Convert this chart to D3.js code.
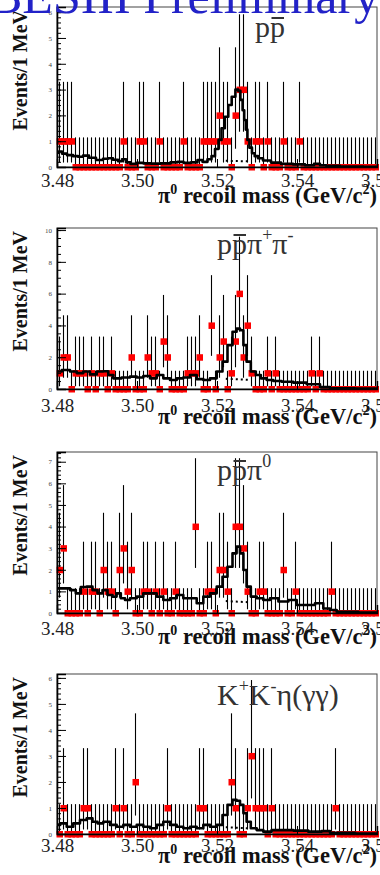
<!DOCTYPE html>
<html>
<head>
<meta charset="utf-8">
<script src="https://cdn.jsdelivr.net/npm/d3@7"></script>
<style>
  body { margin: 0; background: #fff; }
  svg { display: block; }
</style>
</head>
<body>
<div id="chart"></div>
<script>
// binning: 1 MeV bins from 3.48 GeV
const binStart = 3.48;
const binWidth = 0.001;

// Poisson 68% intervals used by the error bars (n = 0..6)
const poissonLow  = [0, 0.173, 0.708, 1.367, 2.086, 2.840, 3.620];
const poissonHigh = [1.148, 3.300, 4.638, 5.918, 7.163, 8.382, 9.584];

// events per bin, 80 bins each
const countsPP = [
  1,1,1,1,0,0,0,0,0,0, 0,0,0,0,0,0,1,0,0,0,
  1,1,0,0,0,1,0,0,0,0, 0,1,0,0,0,0,1,1,1,1,
  2,1,1,0,2,3,3,1,0,1, 1,0,1,0,0,0,1,0,0,0,
  1,0,0,0,0,0,0,0,0,0, 0,0,0,0,0,0,0,0,0,0
];
const countsPPpipi = [
  1,2,2,0,1,1,1,0,1,0, 1,1,0,1,0,0,0,0,2,0,
  0,0,2,1,1,0,3,2,0,0, 0,0,1,1,1,2,0,0,4,0,
  2,3,0,1,3,6,2,4,1,0, 0,0,1,0,1,0,0,0,0,0,
  0,0,0,1,0,1,0,0,0,0, 0,0,0,0,0,0,0,0,0,0
];
const countsPPpi0 = [
  2,3,0,0,0,0,1,0,1,1, 0,2,1,1,0,2,3,1,2,0,
  0,1,1,0,1,0,1,0,0,1, 0,0,0,0,4,0,0,1,1,0,
  2,2,1,0,4,4,3,1,0,0, 1,1,0,0,0,0,2,0,0,1,
  0,0,0,0,0,0,0,0,1,0, 0,0,0,0,0,0,0,0,0,0
];
const countsKKeta = [
  0,1,0,0,0,0,1,1,0,0, 0,0,0,0,1,0,1,0,0,2,
  0,0,0,0,0,0,0,1,0,0, 0,0,0,0,0,1,1,0,0,0,
  0,0,0,2,1,0,0,1,3,1, 1,1,0,1,0,0,0,0,0,0,
  0,0,0,0,0,0,0,0,0,1, 0,0,0,0,0,0,0,0,0,0
];

// fit curves [mass GeV, events/MeV]
const fitPP = [
  [3.48000,0.55],[3.48075,0.60],[3.48175,0.52],[3.48325,0.46],[3.48475,0.42],[3.48575,0.40],
  [3.48725,0.44],[3.48875,0.36],[3.49075,0.27],[3.49225,0.32],[3.49325,0.34],[3.49475,0.28],
  [3.49575,0.22],[3.49675,0.30],[3.49775,0.18],[3.49900,0.12],[3.50075,0.16],[3.50250,0.14],
  [3.50450,0.13],[3.50725,0.14],[3.50950,0.18],[3.51075,0.20],[3.51250,0.16],[3.51450,0.18],
  [3.51575,0.27],[3.51700,0.20],[3.51825,0.30],[3.51900,0.42],[3.52000,0.70],[3.52075,1.05],
  [3.52150,1.50],[3.52240,1.95],[3.52325,2.40],[3.52410,2.72],[3.52510,3.00],[3.52550,2.95],
  [3.52620,2.60],[3.52660,2.20],[3.52700,1.82],[3.52740,1.45],[3.52780,1.05],[3.52840,0.75],
  [3.52910,0.53],[3.52975,0.42],[3.53075,0.34],[3.53225,0.25],[3.53475,0.17],[3.53725,0.12],
  [3.54075,0.10],[3.54325,0.07],[3.54525,0.12],[3.54625,0.07],[3.54825,0.05],[3.55325,0.02],
  [3.56000,0.01]
];
const fitPPpipi = [
  [3.48000,1.10],[3.48240,1.20],[3.48410,1.10],[3.48575,1.00],[3.48740,1.10],[3.48910,0.92],
  [3.49075,1.10],[3.49240,1.12],[3.49325,0.88],[3.49490,0.67],[3.49740,0.72],[3.49910,0.78],
  [3.50075,0.72],[3.50240,0.82],[3.50410,0.67],[3.50575,0.88],[3.50740,0.67],[3.50910,0.57],
  [3.51075,0.67],[3.51240,0.72],[3.51410,0.88],[3.51575,0.62],[3.51740,0.57],[3.51910,0.67],
  [3.52075,1.10],[3.52200,1.72],[3.52325,2.76],[3.52450,3.60],[3.52530,3.80],[3.52620,3.70],
  [3.52700,2.76],[3.52780,1.72],[3.52910,1.10],[3.53030,0.88],[3.53160,0.67],[3.53325,0.57],
  [3.53490,0.50],[3.53740,0.46],[3.54075,0.40],[3.54410,0.30],[3.54740,0.12],[3.54910,0.05],
  [3.56000,0.03]
];
const fitPPpi0 = [
  [3.48000,1.14],[3.48240,1.14],[3.48410,1.06],[3.48530,0.91],[3.48660,1.20],[3.48825,1.22],
  [3.48950,1.06],[3.49075,0.91],[3.49200,1.06],[3.49325,0.83],[3.49450,0.76],[3.49530,0.91],
  [3.49660,0.68],[3.49740,0.60],[3.49910,0.68],[3.50075,0.76],[3.50240,0.91],[3.50410,0.91],
  [3.50575,0.76],[3.50740,0.60],[3.50910,0.68],[3.51075,0.83],[3.51240,0.68],[3.51410,0.68],
  [3.51575,0.45],[3.51740,0.76],[3.51910,0.91],[3.52075,1.22],[3.52200,1.68],[3.52325,2.14],
  [3.52450,2.76],[3.52530,3.07],[3.52620,2.76],[3.52700,1.99],[3.52780,1.22],[3.52910,0.76],
  [3.53075,0.68],[3.53240,0.60],[3.53410,0.68],[3.53660,0.53],[3.53910,0.60],[3.54075,0.37],
  [3.54325,0.37],[3.54575,0.45],[3.54740,0.21],[3.54910,0.14],[3.55075,0.06],[3.56000,0.02]
];
const fitKKeta = [
  [3.48000,0.35],[3.48160,0.41],[3.48325,0.28],[3.48490,0.41],[3.48660,0.54],[3.48825,0.60],
  [3.48950,0.47],[3.49075,0.41],[3.49240,0.47],[3.49410,0.35],[3.49575,0.28],[3.49740,0.35],
  [3.49910,0.28],[3.50075,0.35],[3.50240,0.28],[3.50410,0.22],[3.50575,0.35],[3.50740,0.47],
  [3.50910,0.35],[3.51075,0.28],[3.51240,0.22],[3.51410,0.28],[3.51575,0.22],[3.51740,0.35],
  [3.51910,0.28],[3.52075,0.35],[3.52200,0.73],[3.52325,1.12],[3.52450,1.31],[3.52530,1.28],
  [3.52620,1.12],[3.52700,0.80],[3.52780,0.47],[3.52910,0.22],[3.53075,0.15],[3.53240,0.09],
  [3.53490,0.15],[3.53740,0.15],[3.54075,0.13],[3.54490,0.09],[3.54740,0.11],[3.54910,0.05],
  [3.56000,0.02]
];

// dotted background component, seen only under the peak
const bgPP     = [[3.5222,0.24],[3.5278,0.22]];
const bgPPpipi = [[3.5222,0.64],[3.5278,0.58]];
const bgPPpi0  = [[3.5222,0.55],[3.5278,0.50]];
const bgKKeta  = [[3.5222,0.26],[3.5278,0.22]];

// tick labels
const xTicks = [3.48, 3.50, 3.52, 3.54, 3.56];
const yTicksPP     = [0, 1, 2, 3, 4, 5, 6];
const yTicksPPpipi = [0, 2, 4, 6, 8, 10];
const yTicksPPpi0  = [0, 1, 2, 3, 4, 5, 6, 7];
const yTicksKKeta  = [0, 1, 2, 3, 4, 5, 6];

// channel labels: [text, n=normal | b=barred | u=superscript]
const labelPP     = [["p","n"],["p","b"]];
const labelPPpipi = [["p","n"],["p","b"],["π","n"],["+","u"],["π","n"],["-","u"]];
const labelPPpi0  = [["p","n"],["p","b"],["π","n"],["0","u"]];
const labelKKeta  = [["K","n"],["+","u"],["K","n"],["-","u"],["η(γγ)","n"]];

const panels = [
  {counts: countsPP, fit: fitPP, bg: bgPP, yTicks: yTicksPP, yMax: 6.2, minor: 0.2,
   top: 7, bottom: 167, tickY: 20, titleY: 36, label: labelPP, labelX: 255, labelY: 37},
  {counts: countsPPpipi, fit: fitPPpipi, bg: bgPPpipi, yTicks: yTicksPPpipi, yMax: 10.13, minor: 0.5,
   top: 228, bottom: 389, tickY: 23, titleY: 35, label: labelPPpipi, labelX: 217, labelY: 254},
  {counts: countsPPpi0, fit: fitPPpi0, bg: bgPPpi0, yTicks: yTicksPPpi0, yMax: 7.45, minor: 0.2,
   top: 452, bottom: 613, tickY: 22, titleY: 31, label: labelPPpi0, labelX: 217, labelY: 480},
  {counts: countsKKeta, fit: fitKKeta, bg: bgKKeta, yTicks: yTicksKKeta, yMax: 6.15, minor: 0.2,
   top: 674, bottom: 834, tickY: 18, titleY: 29, label: labelKKeta, labelX: 217, labelY: 705}
];

const serif = "'Liberation Serif', 'Times New Roman', serif";
const frameLeft = 57, frameRight = 377;

const svg = d3.select("#chart").append("svg")
  .attr("width", 380)
  .attr("height", 875);

panels.forEach(drawPanel);

// banner, mostly cut off by the top edge
svg.append("text")
  .attr("x", -11)
  .attr("y", 13)
  .style("font-family", serif)
  .style("font-size", "50px")
  .attr("fill", "#2222c8")
  .text("BESIII Preliminary");

function drawPanel(p) {
  let x = d3.scaleLinear()
    .domain([binStart, binStart + binWidth * p.counts.length])
    .range([frameLeft, frameRight]);
  let y = d3.scaleLinear()
    .domain([0, p.yMax])
    .range([p.bottom, p.top]);

  let g = svg.append("g");

  let bins = p.counts.map(function(c, i) {
    return {m: binStart + binWidth * (i + 0.5), n: c};
  });

  // error bars (half pixel shift keeps the 1px lines sharp)
  g.selectAll(".err")
    .data(bins)
    .enter()
    .append("line")
    .attr("class", "err")
    .attr("x1", function(d) { return Math.round(x(d.m)) + 0.5; })
    .attr("x2", function(d) { return Math.round(x(d.m)) + 0.5; })
    .attr("y1", function(d) { return y(poissonLow[d.n]); })
    .attr("y2", function(d) { return y(poissonHigh[d.n]); })
    .attr("stroke", "#000")
    .attr("stroke-width", 1.1);

  // markers
  g.selectAll(".pt")
    .data(bins)
    .enter()
    .append("rect")
    .attr("class", "pt")
    .attr("x", function(d) { return Math.round(x(d.m)) - 2.5; })
    .attr("y", function(d) { return y(d.n) - 3; })
    .attr("width", 6.5)
    .attr("height", 6.5)
    .attr("fill", "#ff0000");

  // frame
  g.append("rect")
    .attr("x", frameLeft)
    .attr("y", p.top)
    .attr("width", frameRight - frameLeft)
    .attr("height", p.bottom - p.top)
    .attr("fill", "none")
    .attr("stroke", "#444")
    .attr("stroke-width", 1);

  // y axis, ticks inside
  let minorTicks = d3.range(0, p.yMax, p.minor);
  g.append("g")
    .attr("transform", "translate(" + frameLeft + ",0)")
    .call(d3.axisLeft(y).tickValues(minorTicks).tickSize(-4).tickFormat(""))
    .call(function(a) { a.select(".domain").remove(); });

  let yAx = g.append("g")
    .attr("transform", "translate(" + frameLeft + ",0)")
    .call(d3.axisLeft(y).tickValues(p.yTicks).tickSize(-9).tickPadding(5).tickFormat(d3.format("d")));
  yAx.select(".domain").attr("stroke", "#000").attr("stroke-width", 1.6);
  yAx.selectAll("text")
    .style("font-family", serif)
    .style("font-size", "7px")
    .attr("fill", "#444");

  // x axis
  let xAx = g.append("g")
    .attr("transform", "translate(0," + p.bottom + ")")
    .call(d3.axisBottom(x).tickValues(xTicks).tickSize(-8).tickFormat(d3.format(".2f")));
  xAx.select(".domain").attr("stroke", "#000").attr("stroke-width", 1.4);
  xAx.selectAll("text")
    .attr("y", p.tickY)
    .attr("dy", 0)
    .style("font-family", serif)
    .style("font-size", "19px")
    .attr("fill", "#222");

  // fit curve and background
  let line = d3.line()
    .x(function(d) { return x(d[0]); })
    .y(function(d) { return y(d[1]); })
    .curve(d3.curveStep);

  g.append("path")
    .datum(p.bg)
    .attr("d", d3.line().x(function(d) { return x(d[0]); }).y(function(d) { return y(d[1]); }))
    .attr("fill", "none")
    .attr("stroke", "#000")
    .attr("stroke-width", 2)
    .attr("stroke-dasharray", "2,3");

  g.append("path")
    .datum(p.fit)
    .attr("d", line)
    .attr("fill", "none")
    .attr("stroke", "#000")
    .attr("stroke-width", 2.6)
    .attr("stroke-linejoin", "round");

  // axis titles
  let xt = g.append("text")
    .attr("x", frameRight)
    .attr("y", p.bottom + p.titleY)
    .attr("text-anchor", "end")
    .style("font-family", serif)
    .style("font-size", "22.5px")
    .style("font-weight", "bold")
    .attr("fill", "#111");
  xt.append("tspan").text("π");
  xt.append("tspan").attr("dy", -9).style("font-size", "14px").text("0");
  xt.append("tspan").attr("dy", 9).text(" recoil mass (GeV/c");
  xt.append("tspan").attr("dy", -9).style("font-size", "14px").text("2");
  xt.append("tspan").attr("dy", 9).text(")");

  g.append("text")
    .attr("transform", "translate(27," + (p.top + 3) + ") rotate(-90)")
    .attr("text-anchor", "end")
    .style("font-family", serif)
    .style("font-size", "20px")
    .style("font-weight", "bold")
    .attr("fill", "#111")
    .text("Events/1 MeV");

  // channel label
  let lt = g.append("text")
    .attr("x", p.labelX)
    .attr("y", p.labelY)
    .style("font-family", serif)
    .style("font-size", "30px")
    .attr("fill", "#333");
  let raised = false, charIndex = 0, barred = [];
  p.label.forEach(function(part) {
    let ts = lt.append("tspan").text(part[0]);
    if (part[1] == "u") {
      ts.attr("dy", raised ? 0 : -13).style("font-size", "18px");
      raised = true;
    } else {
      if (raised) ts.attr("dy", 13);
      raised = false;
    }
    if (part[1] == "b") barred.push(charIndex);
    charIndex += part[0].length;
  });
  barred.forEach(function(ci) {
    let box = lt.node().getExtentOfChar(ci);
    g.append("line")
      .attr("x1", box.x + 1.5)
      .attr("x2", box.x + box.width - 1)
      .attr("y1", p.labelY - 19)
      .attr("y2", p.labelY - 19)
      .attr("stroke", "#333")
      .attr("stroke-width", 2);
  });
}
</script>
</body>
</html>
